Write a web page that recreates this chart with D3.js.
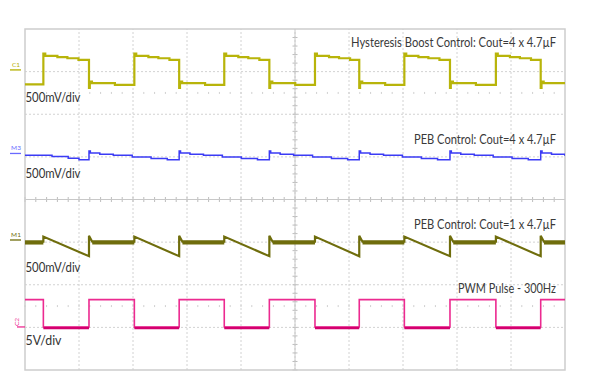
<!DOCTYPE html>
<html>
<head>
<meta charset="utf-8">
<script src="https://cdn.jsdelivr.net/npm/d3@7"></script>
<style>
  body { margin: 0; background: #fff; }
  svg { display: block; }
  text { font-family: Lato, "Open Sans", sans-serif; }
</style>
</head>
<body>
<svg id="scope" width="599" height="379"></svg>
<script>
const riseTimes = [0.68, 4.05, 7.38, 10.74, 14.05, 17.44];
const fallTimes = [2.37, 5.71, 9.05, 12.38, 15.74, 19.10];

// C1 (hysteresis boost output), volts, [offset after edge, level]
const c1Start = -0.17;
const c1High = [[0, 0.19], [0.07, 0.164], [0.52, 0.149], [0.89, 0.137], [1.3, 0.117]];
const c1Low = [[0, -0.21], [0.03, -0.137], [0.11, -0.156], [0.96, -0.176]];

// M3 (PEB, 4 x 4.7uF), volts
const m3Start = [[0, -0.02], [1.0, -0.035], [1.6, -0.055], [2.0, -0.075]];
const m3Cycle = [[0, 0.03], [0.05, 0.005], [0.4, -0.01], [0.9, -0.02], [1.6, -0.04], [2.3, -0.06], [2.9, -0.075]];

// M1 (PEB, 1 x 4.7uF), volts
const m1Flat = -0.02;
const m1RampTop = 0.04;
const m1RampEnd = -0.19;
const m1Kick = 0.05;

// C2 PWM pulse, volts
const pwmHigh = 3.2;
const pwmLow = 0;

const labels = ["Hysteresis Boost Control: Cout=4 x 4.7\u00b5F", "PEB Control: Cout=4 x 4.7\u00b5F",
                "PEB Control: Cout=1 x 4.7\u00b5F", "PWM Pulse - 300Hz"];
const scaleLabels = ["500mV/div", "500mV/div", "500mV/div", "5V/div"];

const svg = d3.select('#scope');
const x = d3.scaleLinear().domain([0, 20]).range([25, 565]);
const y = d3.scaleLinear().domain([-4, 4]).range([370, 29]);

svg.append('clipPath').attr('id', 'clip')
  .append('rect').attr('x', 25).attr('y', 29).attr('width', 540).attr('height', 341);

// graticule
const grid = svg.append('g');
d3.range(1, 10).forEach(k => {
  grid.append('line').attr('x1', x(k * 2)).attr('x2', x(k * 2)).attr('y1', y(-4)).attr('y2', y(4))
    .attr('stroke', '#d2d2d2').attr('stroke-dasharray', '2,2');
});
d3.range(-3, 4).forEach(k => {
  grid.append('line').attr('x1', x(0)).attr('x2', x(20)).attr('y1', y(k)).attr('y2', y(k))
    .attr('stroke', '#d2d2d2').attr('stroke-dasharray', '2,2');
});
// centre tick marks
d3.range(0, 50).forEach(i => {
  const t = i * 0.4;
  grid.append('line').attr('x1', x(t)).attr('x2', x(t)).attr('y1', y(0) - 2.5).attr('y2', y(0) + 2.5)
    .attr('stroke', '#bdbdbd');
  [2.5, -2.5].forEach(lv => {
    grid.append('line').attr('x1', x(t)).attr('x2', x(t)).attr('y1', y(lv) - 1).attr('y2', y(lv) + 1)
      .attr('stroke', '#cfcfcf');
  });
});
d3.range(0, 40).forEach(i => {
  const v = -4 + i * 0.2;
  grid.append('line').attr('x1', x(10) - 2.5).attr('x2', x(10) + 2.5).attr('y1', y(v)).attr('y2', y(v))
    .attr('stroke', '#bdbdbd');
});
grid.append('line').attr('x1', x(0)).attr('x2', x(20)).attr('y1', y(0)).attr('y2', y(0)).attr('stroke', '#c8c8c8');
grid.append('line').attr('x1', x(10)).attr('x2', x(10)).attr('y1', y(-4)).attr('y2', y(4)).attr('stroke', '#c8c8c8');
grid.append('rect').attr('x', x(0)).attr('y', y(4)).attr('width', x(20) - x(0)).attr('height', y(-4) - y(4))
  .attr('fill', 'none').attr('stroke', '#cdcdcd').attr('stroke-width', 1.5);

// build point lists from edges
function c1Points() {
  const pts = [[0, c1Start]];
  riseTimes.forEach((r, i) => {
    c1High.forEach(p => pts.push([r + p[0], p[1]]));
    c1Low.forEach(p => pts.push([fallTimes[i] + p[0], p[1]]));
  });
  pts.push([20, pts[pts.length - 1][1]]);
  return pts;
}
function m3Points() {
  const pts = m3Start.map(p => [p[0], p[1]]);
  fallTimes.forEach(f => m3Cycle.forEach(p => pts.push([f + p[0], p[1]])));
  pts.push([20, pts[pts.length - 1][1]]);
  return pts;
}
function m1Points() {
  const pts = [[0, m1Flat]];
  riseTimes.forEach((r, i) => {
    pts.push([r, m1Flat], [r, m1RampTop], [fallTimes[i], m1RampEnd], [fallTimes[i], m1Kick],
             [fallTimes[i] + 0.12, m1Flat]);
  });
  pts.push([20, m1Flat]);
  return pts;
}
function pwmPoints() {
  const pts = [[0, pwmHigh]];
  riseTimes.forEach((r, i) => { pts.push([r, pwmLow], [fallTimes[i], pwmHigh]); });
  pts.push([20, pwmHigh]);
  return pts;
}

// trace: offset in divisions, volts per division
const traces = [
  {pts: c1Points(), off: 3.04, vpd: 0.5, color: '#b8b40a', w: 2.2, curve: d3.curveStepAfter},
  {pts: m3Points(), off: 1.08, vpd: 0.5, color: '#3b3bf5', w: 1.5, curve: d3.curveStepAfter},
  {pts: m1Points(), off: -0.95, vpd: 0.5, color: '#6f6d0c', w: 2.2, curve: d3.curveLinear},
  {pts: pwmPoints(), off: -2.99, vpd: 5, color: '#ec2a90', w: 1.6, curve: d3.curveStepAfter}
];

const plot = svg.append('g').attr('clip-path', 'url(#clip)');
traces.forEach(tr => {
  const line = d3.line().curve(tr.curve)
    .x(d => x(d[0]))
    .y(d => y(tr.off + d[1] / tr.vpd));
  plot.append('path').datum(tr.pts)
    .attr('fill', 'none').attr('stroke', tr.color).attr('stroke-width', tr.w).attr('d', line);
});

// thicker noisy flat parts of M1 and low parts of PWM
riseTimes.forEach((r, i) => {
  const prevFall = i === 0 ? 0 : fallTimes[i - 1] + 0.12;
  plot.append('line').attr('x1', x(prevFall)).attr('x2', x(r))
    .attr('y1', y(-0.95 + (m1Flat - 0.01) / 0.5)).attr('y2', y(-0.95 + (m1Flat - 0.01) / 0.5))
    .attr('stroke', '#6f6d0c').attr('stroke-width', 4);
  plot.append('line').attr('x1', x(r)).attr('x2', x(fallTimes[i]))
    .attr('y1', y(-2.99) + 1).attr('y2', y(-2.99) + 1)
    .attr('stroke', '#d4006f').attr('stroke-width', 2.5);
});
plot.append('line').attr('x1', x(fallTimes[5] + 0.12)).attr('x2', x(20))
  .attr('y1', y(-0.95 + (m1Flat - 0.01) / 0.5)).attr('y2', y(-0.95 + (m1Flat - 0.01) / 0.5))
  .attr('stroke', '#6f6d0c').attr('stroke-width', 4);

// channel markers
const markers = [
  {name: 'C1', off: 3.04, color: '#b4b000'},
  {name: 'M3', off: 1.08, color: '#6a6aff'},
  {name: 'M1', off: -0.95, color: '#6f6d0c'}
];
markers.forEach(m => {
  svg.append('text').attr('x', 16).attr('y', y(m.off) - 3).attr('text-anchor', 'middle')
    .attr('font-size', 6.5).attr('fill', m.color).text(m.name);
  svg.append('line').attr('x1', 10).attr('x2', 21).attr('y1', y(m.off)).attr('y2', y(m.off))
    .attr('stroke', m.color).attr('stroke-width', 1.3);
});
svg.append('text').attr('transform', `translate(19,${y(-2.99) - 5}) rotate(-90)`)
  .attr('text-anchor', 'middle').attr('font-size', 6.5).attr('fill', '#ec2a90').text('C2');
svg.append('line').attr('x1', 17).attr('x2', 25).attr('y1', y(-2.99)).attr('y2', y(-2.99))
  .attr('stroke', '#ec2a90').attr('stroke-width', 1.3);

// annotations
const labelY = [47, 144, 228.5, 292.5];
const labelW = [205, 142, 142, 98];
labels.forEach((t, i) => {
  svg.append('text').attr('x', 556 - labelW[i]).attr('y', labelY[i])
    .attr('textLength', labelW[i]).attr('lengthAdjust', 'spacingAndGlyphs')
    .attr('font-size', 12.5).attr('fill', '#3a3a3a').text(t);
});
const scaleY = [101.5, 177.5, 271.5, 344.5];
const scaleW = [55, 55, 55, 36];
scaleLabels.forEach((t, i) => {
  svg.append('text').attr('x', 25.5).attr('y', scaleY[i])
    .attr('textLength', scaleW[i]).attr('lengthAdjust', 'spacingAndGlyphs')
    .attr('font-size', 13).attr('fill', '#333').text(t);
});
</script>
</body>
</html>
